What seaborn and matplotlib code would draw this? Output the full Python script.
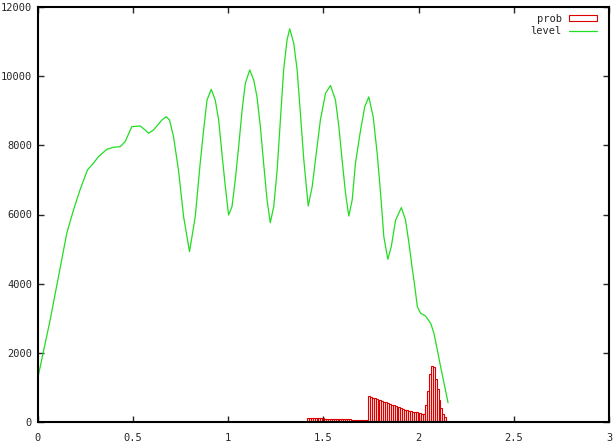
import matplotlib
matplotlib.use("Agg")
import matplotlib.pyplot as plt
import numpy as np
import pandas as pd
import seaborn as sns

# level curve
level_x = [0.000, 0.066, 0.110, 0.154, 0.190, 0.223, 0.262, 0.293, 0.320, 0.364,
           0.399, 0.434, 0.460, 0.495, 0.539, 0.565, 0.583, 0.609, 0.653, 0.676,
           0.693, 0.714, 0.740, 0.767, 0.798, 0.828, 0.854, 0.872, 0.890, 0.912,
           0.933, 0.951, 0.968, 0.986, 1.003, 1.021, 1.038, 1.056, 1.074, 1.091,
           1.114, 1.135, 1.152, 1.170, 1.187, 1.205, 1.222, 1.240, 1.258, 1.275,
           1.292, 1.310, 1.324, 1.345, 1.363, 1.380, 1.398, 1.421, 1.442, 1.459,
           1.485, 1.512, 1.538, 1.564, 1.582, 1.599, 1.617, 1.634, 1.652, 1.669,
           1.696, 1.718, 1.739, 1.762, 1.783, 1.801, 1.818, 1.839, 1.857, 1.880,
           1.910, 1.932, 1.950, 1.967, 1.976, 1.994, 2.011, 2.037, 2.064, 2.081,
           2.099, 2.116, 2.134, 2.155]
level_y = [1230, 2940, 4200, 5465, 6150, 6709, 7287, 7480, 7672, 7886,
           7944, 7961, 8105, 8539, 8560, 8444, 8349, 8444, 8733, 8828,
           8733, 8250, 7287, 5937, 4925, 5937, 7481, 8444, 9311, 9620,
           9311, 8733, 7770, 6804, 5986, 6226, 6998, 7961, 9022, 9794,
           10180, 9890, 9407, 8539, 7481, 6420, 5763, 6226, 7287, 8733,
           10179, 11046, 11370, 10951, 10179, 8926, 7576, 6246, 6804, 7576,
           8733, 9505, 9730, 9311, 8539, 7576, 6613, 5957, 6420, 7481,
           8444, 9118, 9400, 8829, 7770, 6613, 5358, 4705, 5069, 5841,
           6200, 5841, 5168, 4445, 4106, 3334, 3143, 3065, 2854, 2565,
           2082, 1600, 1119, 560]

# prob boxes
prob_x = [1.42, 1.43, 1.44, 1.45, 1.46, 1.47, 1.48, 1.49, 1.50,
          1.51, 1.52, 1.53, 1.54, 1.55, 1.56, 1.57, 1.58, 1.59, 1.60, 1.61, 1.62, 1.63, 1.64,
          1.65, 1.66, 1.67, 1.68, 1.69, 1.70, 1.71, 1.72, 1.73,
          1.74, 1.75, 1.76, 1.77, 1.78, 1.79, 1.80, 1.81, 1.82, 1.83,
          1.84, 1.85, 1.86, 1.87, 1.88, 1.89, 1.90, 1.91, 1.92, 1.93,
          1.94, 1.95, 1.96, 1.97, 1.98, 1.99, 2.00, 2.01, 2.02, 2.03,
          2.04, 2.05, 2.06, 2.07, 2.08, 2.09, 2.10, 2.11, 2.12, 2.13, 2.14]
prob_y = [110, 110, 110, 110, 110, 110, 110, 110, 110,
          80, 80, 80, 80, 80, 80, 80, 80, 80, 80, 80, 80, 80, 80,
          50, 50, 50, 50, 50, 50, 50, 50, 50,
          750, 725, 705, 690, 670, 650, 630, 610, 590, 570,
          545, 525, 505, 480, 460, 440, 420, 395, 380, 360,
          345, 330, 310, 300, 285, 275, 260, 250, 240, 230,
          500, 900, 1400, 1620, 1580, 1250, 950, 650, 400, 220, 150]

x_ticks = [0, 0.5, 1, 1.5, 2, 2.5, 3]
x_labels = ["0", "0.5", "1", "1.5", "2", "2.5", "3"]
y_ticks = [0, 2000, 4000, 6000, 8000, 10000, 12000]

red = "#dd0000"
green = "#22dd22"

sns.set_style("ticks")
plt.rcParams["font.family"] = ["DejaVu Sans Mono"]
plt.rcParams["font.size"] = 7.5

level = pd.DataFrame({"x": level_x, "level": level_y})

fig = plt.figure(figsize=(6.16, 4.43), dpi=100)
ax = fig.add_axes([37.5 / 616, 21 / 443, 571.5 / 616, 415 / 443])

ax.bar(prob_x, prob_y, width=0.01, fill=False, edgecolor=red,
       linewidth=0.8, label="prob")
sns.lineplot(data=level, x="x", y="level", ax=ax, color=green, linewidth=0.9,
             sort=False, estimator=None, label="level")

ax.set_xlim(0, 3)
ax.set_ylim(0, 12000)
ax.set_xticks(x_ticks)
ax.set_xticklabels(x_labels)
ax.set_yticks(y_ticks)
ax.set_xlabel("")
ax.set_ylabel("")
for s in ax.spines.values():
    s.set_visible(True)
    s.set_linewidth(1.5)
    s.set_color("black")
ax.tick_params(direction="in", top=True, right=True, length=4.5, width=1,
               labelsize=7.5)
ax.tick_params(axis="x", pad=8)
ax.tick_params(axis="y", pad=4)

handles, labels = ax.get_legend_handles_labels()
order = [labels.index("prob"), labels.index("level")]
ax.legend([handles[i] for i in order], [labels[i] for i in order],
          loc="upper right", bbox_to_anchor=(597 / 616, 1 - 14 / 443),
          bbox_transform=fig.transFigure, frameon=False, markerfirst=False,
          borderpad=0, borderaxespad=0, handlelength=2.7, handleheight=0.5,
          handletextpad=0.7, labelspacing=0.2, fontsize=7.5)

fig.savefig("out.png", dpi=100)
